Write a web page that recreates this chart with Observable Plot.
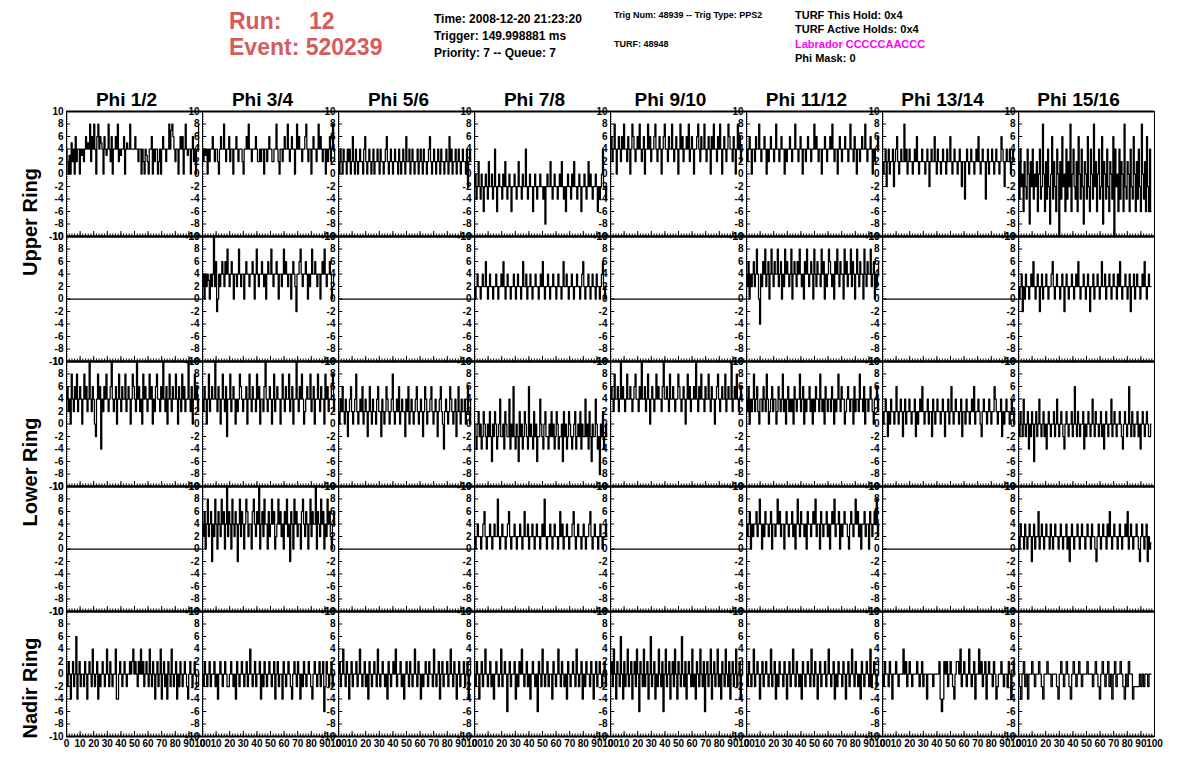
<!DOCTYPE html>
<html>
<head>
<meta charset="utf-8">
<title>ANITA event display</title>
<script src="https://cdn.jsdelivr.net/npm/d3@7"></script>
<script src="https://cdn.jsdelivr.net/npm/@observablehq/plot@0.6"></script>
<style>
  html, body { margin: 0; padding: 0; background: #fff; }
  body { width: 1196px; height: 772px; position: relative; overflow: hidden;
         font-family: "Liberation Sans", Arial, Helvetica, sans-serif; font-weight: bold; }
  #chart { position: absolute; left: 0; top: 0; }
  .hdr { position: absolute; white-space: pre; line-height: 1; }
  .run { color: #d65c5c; font-size: 23px; }
  .box { position: absolute; background: #efefef; }
  .t12 { font-size: 12px; color: #000; }
  .t9 { font-size: 9px; color: #000; }
  .t11 { font-size: 11px; color: #000; }
  .ring { position: absolute; font-size: 20px; color: #000; transform: translate(-50%, -50%) rotate(-90deg); white-space: nowrap; }
</style>
</head>
<body>
<div class="box" style="left:426px;top:11px;width:166px;height:57px"></div>
<div class="box" style="left:606px;top:11px;width:166px;height:57px"></div>
<div class="box" style="left:787px;top:11px;width:166px;height:57px"></div>
<div id="chart"></div>
<script>
// ---------- categories ----------
const columns = ["Phi 1/2", "Phi 3/4", "Phi 5/6", "Phi 7/8", "Phi 9/10", "Phi 11/12", "Phi 13/14", "Phi 15/16"];
const rowKeys = ["U1", "U2", "L1", "L2", "N"];
const ringLabels = ["Upper Ring", "Lower Ring", "Nadir Ring"];

// ---------- tick labels ----------
const yTickLabels = [-10, -8, -6, -4, -2, 0, 2, 4, 6, 8, 10];
const xTickLabels = [0, 10, 20, 30, 40, 50, 60, 70, 80, 90, 100];

// ---------- header texts ----------
const runNumber = "12";
const eventNumber = "520239";
const timeText = "Time: 2008-12-20 21:23:20";
const triggerText = "Trigger: 149.998881 ms";
const priorityText = "Priority: 7 -- Queue: 7";
const trigNumText = "Trig Num: 48939 -- Trig Type: PPS2";
const turfText = "TURF: 48948";
const holdText = "TURF This Hold: 0x4";
const activeHoldsText = "TURF Active Holds: 0x4";
const labradorText = "Labrador CCCCCAACCC";
const phiMaskText = "Phi Mask: 0";

// ---------- waveform values ----------
const sampleSpan = 97.5; // time of the last sample
const flatTimes = [0, 100];
const flatValues = [0, 0];

// Upper ring, first row
const u1Phi12 = [4,2,0,3,0,5,2,4,0,6,2,4,4,0,4,3,4,2,4,6,4,5,4,8,2,6,4,8,4,0,6,8,4,6,5,4,0,6,4,3,4,8,4,2,6,0,4,4,6,4,8,2,4,3,4,4,6,0,4,5,4,4,8,4,4,4,4,6,4,4,2,4,4,0,4,2,0,4,3,2,0,4,4,6,0,4,2,4,4,0,2,4,0,4,6,4,4,2,4,4,8,4,7,8,6,4,2,4,4,0,4,6,4,6,0,4,8,4,3,4,4,0,4,6,2,4,0,4,4,8];
const u1Phi34 = [4,2,4,3,4,0,4,2,4,4,6,4,2,4,4,2,0,4,6,4,4,8,4,2,4,4,6,2,4,4,0,4,4,6,4,2,4,4,4,2,0,4,4,6,4,8,4,4,2,4,4,4,6,4,2,2,4,2,4,4,0,4,4,2,4,6,4,4,2,2,4,4,8,4,2,0,4,4,2,4,6,4,4,8,4,2,4,6,4,4,0,4,8,4,6,4,4,2,4,4,6,8,4,2,4,4,0,4,6,4,4,2,4,8,4,6,4,2,4,4,0,4,2,4,6,2,4,8,4,2];
const u1Phi56 = [2,0,4,2,0,4,2,2,0,4,2,4,0,2,6,2,0,4,2,0,2,4,2,2,0,4,6,2,0,2,4,2,0,2,4,0,2,2,4,2,0,4,2,2,0,2,4,6,2,0,2,4,2,0,2,4,2,2,0,4,2,0,2,4,2,0,6,2,2,4,0,2,4,2,0,2,2,4,0,2,4,2,0,4,2,2,0,2,4,6,2,0,2,4,2,0,2,4,2,0,4,2,2,0,2,4,2,0,6,2,4,0,2,2,4,0,2,4,2,0,2,4,2,2,0,4,-2,2,4,2];
const u1Phi78 = [-2,0,-4,-2,2,-2,-4,0,-2,-6,-2,0,-2,-4,2,-2,-2,0,-4,-2,4,-2,-6,-2,0,-2,-2,-4,0,-2,2,-2,-4,-2,0,-2,-6,-2,-2,0,-2,-4,-2,2,-2,-2,-4,0,-2,-2,4,-2,-4,-2,0,-2,-2,-6,-2,0,-2,-4,-2,-2,0,-2,-2,-4,-2,-8,-2,0,-2,-2,2,-2,-4,-2,0,-2,-2,-4,-2,0,-2,2,-2,-4,-2,-6,-2,0,-2,-2,-4,0,-2,2,-2,-2,-4,-2,0,-2,-6,-2,-2,0,-2,-4,-2,2,-2,0,-2,-4,-2,-2,0,-2,-6,-2,-4,-2,0,4,-2,-2,-4,-2];
const u1Phi910 = [4,6,2,4,8,4,0,4,6,4,2,6,4,8,4,4,2,6,4,0,4,8,6,4,2,4,6,4,8,4,2,4,6,0,4,4,8,4,6,2,4,4,6,8,4,2,4,6,4,0,4,6,8,4,4,2,6,4,4,8,4,2,4,6,4,0,4,8,4,6,2,4,4,6,4,8,2,4,6,4,0,4,4,6,8,4,2,6,4,4,8,4,2,4,6,4,0,6,4,8,4,4,2,6,4,8,4,0,4,6,4,2,4,8,6,4,4,2,6,4,0,4,8,4,6,2,4,4];
const u1Phi1112 = [4,2,4,6,4,0,4,4,2,6,4,4,8,4,2,4,4,6,4,0,4,2,4,6,4,4,2,4,8,4,4,2,4,6,4,4,0,4,2,4,4,6,4,2,4,4,8,4,4,2,4,6,4,0,4,4,2,4,6,4,4,2,4,4,8,4,6,4,2,4,4,0,4,4,6,4,2,4,4,6,4,8,4,2,4,4,0,4,6,4,2,4,4,6,4,4,2,4,8,4,4,2,6,4,0,4,4,2,4,6,4,4,8,4,2,4,4,6,4,0,4,2,4,4,6,4];
const u1Phi1314 = [2,0,2,4,-2,2,4,0,2,2,4,-2,2,4,6,2,0,2,4,2,2,8,2,4,0,2,4,2,2,0,2,4,2,6,2,0,2,2,4,2,2,0,2,4,2,-2,2,4,2,2,6,2,0,4,2,2,0,2,4,2,2,0,4,2,2,6,2,0,2,4,2,2,0,2,4,2,-2,2,2,-4,2,4,2,0,2,4,2,2,0,2,4,2,6,2,0,2,4,2,2,-4,2,4,0,2,2,4,2,0,2,4,2,2,0,2,6,4,2,-2,2,4,2,2,4,0,2,4,2,2];
const u1Phi1516 = [2,-4,4,-2,0,-6,2,-2,-4,4,0,-8,2,-2,4,-4,0,-2,2,-6,0,4,-4,-2,8,0,-6,2,-4,4,-2,-8,0,6,-4,2,-2,-6,4,0,-10,2,-4,6,-2,0,-6,4,-4,2,-2,8,-6,0,4,-2,-4,2,-6,6,0,-4,4,-2,-8,2,0,-4,6,-2,-6,4,0,-4,8,-2,2,-6,0,4,-4,-2,6,-8,2,0,-4,4,-2,-6,2,0,-4,6,-10,4,-2,0,-6,4,-4,2,0,-6,8,-2,-4,2,0,-6,4,-2,-4,6,0,-6,2,-4,4,-2,-6,8,0,-4,2,-6,6,-2,-6,4,-6];

// Upper ring, second row
const u2Phi34 = [2,4,0,4,2,4,3,0,4,2,4,10,2,6,-2,0,4,2,4,6,4,2,6,4,8,4,2,4,6,4,0,4,4,2,4,8,4,2,4,4,0,4,6,4,4,2,4,4,6,4,0,4,8,4,2,4,4,6,4,2,4,0,4,6,4,4,8,4,2,4,4,6,4,0,4,4,2,4,8,4,6,4,2,4,4,0,4,6,4,2,-2,4,4,6,8,4,2,4,4,6,4,0,4,2,4,8,4,4,6,4,2,4,4,0,4,6,4,8,4,2,4,4,6,4,0,2,4,4];
const u2Phi78 = [2,0,2,4,2,2,0,2,4,2,2,6,2,0,2,4,2,2,0,2,2,4,2,0,2,2,4,2,6,2,0,2,4,2,2,0,2,2,4,2,0,2,4,2,2,0,2,6,2,2,4,0,2,2,4,2,0,2,2,4,2,2,0,2,4,2,6,2,0,2,2,4,2,0,2,2,4,2,2,0,2,4,2,2,0,2,6,2,2,4,2,0,2,2,4,2,0,2,2,4,2,2,0,2,4,6,2,0,2,2,4,2,0,2,4,2,2,0,4,2,2,0,2,4,6,2,0,2,2];
const u2Phi1112 = [4,2,6,0,4,2,4,6,2,4,8,4,0,-4,4,2,6,4,8,2,4,6,0,4,8,4,2,6,4,4,8,2,4,6,0,4,2,8,4,6,4,2,4,8,0,4,6,4,2,6,4,8,4,2,4,0,6,4,8,4,2,4,6,4,0,8,4,2,6,4,4,2,8,4,6,0,4,2,4,8,6,4,2,4,0,6,4,8,4,2,6,4,4,0,8,4,6,2,4,4,8,2,6,4,0,4,8,4,2,6,4,4,0,8,4,2,6,4,4,8,2,4,6,0,4,2,4,6];
const u2Phi1516 = [2,0,2,4,-2,2,0,4,2,2,0,2,4,2,6,2,0,2,4,2,-2,2,4,0,2,2,4,2,0,2,2,4,6,2,0,2,4,2,2,0,2,4,2,-2,2,4,2,0,2,2,4,2,0,2,4,2,6,2,0,2,2,4,2,0,2,4,2,-2,2,2,4,0,2,2,4,2,0,2,6,2,2,4,0,2,2,4,2,0,2,4,2,2,0,4,2,6,2,0,2,2,4,2,0,2,4,-2,2,2,4,0,2,4,2,2,0,2,4,2,6,2,0,2,4,2,2];

// Lower ring, first row
const l1Phi12 = [4,6,2,4,0,8,4,2,6,4,8,2,4,6,4,0,4,8,4,6,2,4,10,4,2,6,4,0,-2,4,8,4,6,-4,4,2,6,4,8,4,2,4,6,10,4,2,4,6,0,4,8,4,2,6,4,4,8,2,4,6,4,0,4,8,6,4,2,10,4,6,2,4,0,8,4,6,4,2,4,8,4,6,0,4,2,6,8,4,4,2,6,4,10,4,2,6,0,4,8,4,2,6,4,4,8,4,0,6,4,2,8,4,6,2,4,4,10,4,2,6,0,4,8,4,6,2,4];
const l1Phi34 = [4,2,6,4,0,4,8,2,4,6,4,4,10,4,2,6,4,0,4,8,4,2,6,-2,4,4,8,2,4,6,4,0,4,2,4,8,6,4,2,4,4,6,0,4,8,4,2,6,4,4,2,8,4,6,0,4,4,2,6,10,4,2,4,6,4,0,4,8,2,4,6,4,4,0,4,8,4,2,6,4,4,8,2,4,6,0,4,4,10,4,2,6,4,8,4,0,2,4,6,4,4,8,2,4,6,0,4,4,8,4,2,6,4,4,0,8,4,6,2,4,4,6,8,2,4];
const l1Phi56 = [2,0,4,2,6,2,0,4,2,-2,2,4,6,2,0,2,4,8,2,0,2,4,2,6,0,2,4,2,-2,2,6,2,0,4,2,2,0,4,6,2,2,-2,4,2,0,2,6,4,2,0,2,4,8,2,0,2,4,2,6,0,2,4,2,2,-2,4,2,6,0,2,4,2,0,2,4,6,2,0,2,4,2,-2,2,6,4,0,2,2,4,6,2,0,2,4,2,-2,2,4,6,2,0,-4,2,4,2,0,2,6,4,2,0,2,4,-2,2,6,2,0,4,2,2,4,0,2,6,2,0,4];
const l1Phi78 = [0,-2,-4,0,2,-2,0,-4,-2,2,0,-2,-4,0,-2,2,-2,-6,0,-2,2,0,-4,-2,0,4,-2,-2,0,-4,2,0,-2,-2,4,-4,0,-2,6,-2,-4,0,-2,-6,2,-2,0,-4,-2,2,0,-2,-4,6,-2,0,-2,-4,2,-2,0,-6,-2,-2,4,0,-2,-4,0,2,-2,-2,-4,0,-2,2,-2,0,-4,-2,2,0,-4,-2,-2,0,-6,2,-2,0,-4,-2,2,0,-2,-4,-2,0,2,-4,-2,0,-2,2,-4,0,-2,-2,4,-2,0,-4,2,-2,-6,0,-2,-2,4,0,-4,-2,-8,0,-2,2,-4,-2,0,-2];
const l1Phi910 = [4,6,4,2,8,4,4,6,2,4,10,4,6,4,2,4,8,4,4,6,4,2,4,6,8,4,4,2,6,4,10,4,4,6,2,4,8,4,0,4,6,4,2,4,8,4,6,4,4,2,6,10,4,4,6,4,2,8,4,4,6,4,2,4,4,8,6,4,2,4,6,4,0,4,8,4,6,2,4,4,6,4,10,4,2,6,4,8,4,4,2,6,4,4,8,4,2,6,4,4,0,4,6,8,4,2,4,6,4,4,8,2,4,6,4,4,10,2,4,6,4,8,4,2,4,6,4,4];
const l1Phi1112 = [4,2,6,0,4,2,4,8,2,4,6,2,0,4,4,2,6,4,2,8,4,0,2,4,6,2,4,4,0,2,6,4,2,4,8,2,4,0,4,6,2,4,2,4,0,6,4,2,4,4,8,2,4,6,0,4,2,4,4,6,2,4,0,4,2,6,4,4,2,8,4,2,4,0,6,4,2,4,4,2,6,4,0,4,2,4,8,4,2,6,4,4,0,2,4,6,4,2,4,4,0,6,2,4,4,2,8,4,4,2,6,0,4,4,2,4,6,4,2,0,4,4,6,2,4];
const l1Phi1314 = [2,0,2,4,2,-2,2,0,4,2,2,0,2,6,2,0,2,4,2,-2,2,4,0,2,2,4,2,0,2,2,4,-2,2,0,2,4,2,6,2,0,2,2,4,0,2,2,-2,4,2,0,2,4,2,2,0,2,4,2,-2,2,2,4,0,2,6,2,0,2,4,2,2,0,2,4,-2,2,2,0,4,2,2,0,2,4,2,6,0,2,2,4,2,0,-2,2,4,2,2,0,2,4,2,0,2,2,6,4,2,0,2,2,4,-2,2,0,2,4,2,2,0,2,4,2,0,2];
const l1Phi1516 = [0,-2,2,0,-2,4,0,-2,0,2,-4,0,-2,2,0,-6,0,2,-2,0,4,0,-2,0,2,-2,0,-4,0,2,0,-2,0,0,2,-2,0,4,0,-2,0,2,0,-2,-4,0,2,0,-2,0,0,2,-2,0,6,0,-2,2,0,-2,0,0,2,-4,0,-2,0,2,0,-2,0,4,0,-2,2,0,0,-2,0,2,-2,0,-4,0,2,0,-2,0,0,4,-2,0,2,0,-2,0,0,2,0,-2,-4,0,2,0,-2,0,6,0,-2,2,0,-2,0,0,2,-2,0,-4,0,2,0,-2,0,2,0,-2,-2,0];

// Lower ring, second row
const l2Phi34 = [4,2,6,0,4,8,2,4,6,-2,4,2,8,4,0,6,4,2,8,4,6,0,4,10,2,6,4,0,8,4,2,6,4,-2,4,8,2,6,4,0,4,8,6,2,4,4,0,6,8,4,2,6,4,10,0,4,6,2,8,4,4,0,6,2,4,8,4,6,0,2,4,8,4,6,2,4,0,6,4,8,2,4,-2,6,4,0,8,4,6,2,4,4,0,6,8,4,2,6,4,0,4,8,2,6,4,4,10,0,6,4,2,8,4,6,0,4,2,8,4,6,2,0,4,6,4];
const l2Phi78 = [2,0,2,4,2,2,0,2,4,6,2,0,2,2,4,2,0,2,4,2,2,8,2,0,2,4,2,2,0,2,4,6,2,0,2,2,4,2,0,2,2,4,2,0,2,6,2,2,4,0,2,2,4,2,0,2,4,2,2,0,2,4,2,8,2,0,2,2,4,2,0,2,4,2,2,0,2,6,2,4,0,2,2,4,2,0,2,2,4,6,2,0,2,4,2,2,0,2,4,2,0,2,2,4,6,2,0,2,4,2,2,0,2,4,2,0,2,2,4,2];
const l2Phi1112 = [4,2,4,6,0,4,2,4,4,6,2,4,8,4,0,4,2,6,4,4,2,4,6,0,4,4,2,4,8,4,6,2,4,4,0,4,6,4,2,4,4,6,2,4,0,4,8,4,2,6,4,4,2,4,0,6,4,4,2,4,6,4,8,2,4,4,0,6,4,2,4,4,6,2,4,0,4,6,4,8,2,4,4,6,0,4,2,4,6,4,4,2,0,4,6,4,2,4,8,4,6,2,4,0,4,4,6,2,4,4,0,6,4,2,4,6,4,8,2,4];
const l2Phi1516 = [2,0,4,2,2,0,4,2,0,2,4,2,-2,2,4,0,2,2,6,0,2,4,2,0,2,4,2,2,0,4,2,0,2,4,2,2,0,2,4,2,0,2,2,4,0,2,-2,2,4,2,0,2,2,4,2,0,2,4,2,2,0,2,4,2,2,0,4,2,2,0,-2,2,4,2,0,2,4,2,2,0,4,2,6,2,0,2,4,2,2,0,2,4,2,0,2,2,4,2,6,0,2,4,2,0,2,2,4,2,0,-2,2,4,2,0,2,4,-2,2,0,1];

// Nadir ring
const nPhi12 = [0,-2,2,0,-4,0,2,-2,0,6,-4,0,2,-2,0,0,-2,2,0,-4,0,2,0,-2,4,0,-2,0,2,-4,0,-2,0,2,0,-2,0,4,0,-2,2,0,-2,0,0,4,-4,-4,0,2,0,-2,0,2,0,-2,0,0,2,0,2,4,0,2,0,-2,2,0,4,0,2,-2,0,2,0,-2,4,0,-2,2,0,-4,0,2,-2,0,4,-4,0,2,-2,0,-4,2,0,-2,4,0,-2,0,2,-4,0,-2,2,0,-2,0,2,0,-2,-4,0,2,0,-2,0,2,0,-2,-2,0];
const nPhi34 = [0,-2,2,0,-2,0,2,-2,0,0,2,-2,0,-4,0,2,0,-2,0,2,0,-2,-2,0,2,0,-2,0,-4,2,0,-2,0,2,0,-2,0,2,-2,0,4,0,-2,0,2,-2,0,0,2,-4,0,-2,2,0,-2,0,2,0,-2,0,2,-4,0,2,-2,0,0,-4,2,0,-2,0,2,0,-2,-4,0,2,0,-2,2,0,-4,0,-2,2,0,-2,0,2,0,-2,-4,0,2,0,-2,0,2,-2,0,2,-6,-2,2,0,-2,0,2,-2,0,0];
const nPhi56 = [0,2,-2,0,4,0,-2,2,0,-4,0,2,-2,0,0,2,-2,0,4,0,-2,0,2,-2,0,-4,2,0,-2,0,2,0,-2,4,0,-2,0,2,0,-2,0,-4,2,0,-2,0,2,0,4,-2,0,0,2,-2,0,-4,0,2,0,-2,2,0,-2,0,4,0,-2,2,0,-4,0,-2,0,2,0,-2,2,0,0,-2,4,0,-2,0,2,-4,0,2,-2,0,0,2,-2,0,4,0,-2,2,0,-4,0,2,-2,0,0,2,-2,0,2,-4,0,2];
const nPhi78 = [0,-2,2,0,-4,0,2,-2,0,4,0,-2,0,2,-2,0,-4,0,2,0,-2,0,4,-2,0,2,0,-6,0,2,-2,0,0,2,-4,0,-2,2,0,4,0,-2,0,2,-2,0,-4,0,2,0,-2,0,-6,2,0,-2,4,0,-2,0,2,-2,0,0,-4,2,0,-2,0,4,0,-2,2,0,-2,0,-4,2,0,-2,0,2,0,-2,4,0,-2,0,2,-4,0,-2,2,0,0,-2,2,0,-4,0,2,-2,0,2,0,-2,0,2,-2,0];
const nPhi910 = [0,2,-2,4,0,-4,2,0,-2,6,0,-4,2,-2,0,4,-2,0,2,-4,0,2,-2,4,0,-6,2,0,-2,4,-2,0,2,-4,0,6,-2,0,2,-4,0,-2,4,0,-2,2,-6,0,4,-2,0,2,-4,0,2,-2,4,0,-4,2,0,-2,6,0,-2,2,-4,0,2,0,-2,4,-2,0,-4,2,0,-2,4,0,-2,2,-6,0,2,-2,0,4,-4,0,2,-2,0,4,-2,0,-4,2,0,-2,4,0,-2,2,-4,0,2,-2,0,4,-2,0,2,-4,0,2];
const nPhi1112 = [0,-2,2,0,-2,0,4,-2,0,2,0,-4,0,2,-2,0,2,0,-2,0,4,-2,0,2,-4,0,-2,2,0,0,-2,2,0,-4,0,2,-2,0,4,0,-2,2,0,-2,0,-4,2,0,-2,0,2,0,-2,4,0,-2,2,0,-4,0,2,-2,0,0,2,-2,0,4,0,-2,0,2,-4,0,-2,2,0,0,-2,2,0,-4,0,2,-2,0,4,0,-2,2,0,-2,0,-4,2,0,-2,0,2,0,-2,4,-2,0,2,0,-2,0,2];
const nPhi1314 = [0,-2,2,0,0,-2,2,0,-4,0,0,2,0,-2,0,0,0,4,0,2,-2,0,2,0,-2,0,0,0,2,0,-2,0,2,-2,0,0,-4,0,0,0,0,-2,0,0,0,0,2,-4,-6,-4,2,0,2,-2,0,2,0,-2,-4,0,2,2,0,4,-2,0,2,0,-2,0,4,0,-2,0,2,-4,0,0,4,0,2,-2,0,2,-4,0,2,0,0,-2,2,0,-4,-2,0,0,2,0,-2,0,0,-2,2,0,-4,0,2,0];
const nPhi1516 = [0,-2,-4,0,2,-2,0,-4,0,0,2,0,-2,0,0,2,0,-2,-4,0,0,2,0,0,-2,0,0,0,-2,-4,0,2,0,-2,0,2,0,-2,-4,0,2,0,-2,0,2,0,-2,0,0,0,2,0,0,0,-2,0,2,0,-2,-4,0,2,0,-2,0,2,-2,0,-4,0,2,-2,0,0,2,0,-2,-4,0,-2,2,0,0,-4,-2,-2,-2,-2,0,-2,0,-2,0,0,-2,0,0];

// ---------- build the table for the library ----------
const panels = [
  ["U1", columns[0], u1Phi12], ["U1", columns[1], u1Phi34], ["U1", columns[2], u1Phi56], ["U1", columns[3], u1Phi78],
  ["U1", columns[4], u1Phi910], ["U1", columns[5], u1Phi1112], ["U1", columns[6], u1Phi1314], ["U1", columns[7], u1Phi1516],
  ["U2", columns[0], flatValues, flatTimes], ["U2", columns[1], u2Phi34], ["U2", columns[2], flatValues, flatTimes], ["U2", columns[3], u2Phi78],
  ["U2", columns[4], flatValues, flatTimes], ["U2", columns[5], u2Phi1112], ["U2", columns[6], flatValues, flatTimes], ["U2", columns[7], u2Phi1516],
  ["L1", columns[0], l1Phi12], ["L1", columns[1], l1Phi34], ["L1", columns[2], l1Phi56], ["L1", columns[3], l1Phi78],
  ["L1", columns[4], l1Phi910], ["L1", columns[5], l1Phi1112], ["L1", columns[6], l1Phi1314], ["L1", columns[7], l1Phi1516],
  ["L2", columns[0], flatValues, flatTimes], ["L2", columns[1], l2Phi34], ["L2", columns[2], flatValues, flatTimes], ["L2", columns[3], l2Phi78],
  ["L2", columns[4], flatValues, flatTimes], ["L2", columns[5], l2Phi1112], ["L2", columns[6], flatValues, flatTimes], ["L2", columns[7], l2Phi1516],
  ["N", columns[0], nPhi12], ["N", columns[1], nPhi34], ["N", columns[2], nPhi56], ["N", columns[3], nPhi78],
  ["N", columns[4], nPhi910], ["N", columns[5], nPhi1112], ["N", columns[6], nPhi1314], ["N", columns[7], nPhi1516]
];
const table = [];
for (const [row, col, values, times] of panels) {
  values.forEach((v, i) => {
    const t = times ? times[i] : i * sampleSpan / (values.length - 1);
    table.push({row, col, t, v});
  });
}

const W = 1196, H = 772;
const mTop = 111, mLeft = 62, mRight = 39, mBottom = 36;
const panelW = (W - mLeft - mRight) / columns.length;
const panelH = (H - mTop - mBottom) / rowKeys.length;
const yMinor = d3.range(-10, 10.001, 0.4);
const xMinor = d3.range(0, 100.001, 2);

const chart = Plot.plot({
  width: W, height: H,
  marginTop: mTop, marginLeft: mLeft, marginRight: mRight, marginBottom: mBottom,
  style: {fontFamily: "'Liberation Sans', Arial, Helvetica, sans-serif", fontWeight: "bold", background: "white", color: "black", overflow: "visible"},
  x: {domain: [0, 100], axis: null},
  y: {domain: [-10, 10], axis: null},
  fx: {domain: columns, padding: 0, axis: null},
  fy: {domain: rowKeys, padding: 0, axis: null},
  marks: [
    Plot.line(table, {x: "t", y: "v", fx: "col", fy: "row", stroke: "black", strokeWidth: 1.25, curve: "step"}),
    Plot.frame({stroke: "black", strokeWidth: 1}),
    Plot.ruleY([-10, 10], {stroke: "black", strokeWidth: 2}),
    Plot.tickY(yMinor, {y: d => d, insetRight: panelW - 2.5, stroke: "black", strokeWidth: 1}),
    Plot.tickY(yTickLabels, {y: d => d, insetRight: panelW - 5, stroke: "black", strokeWidth: 1}),
    Plot.tickX(xMinor, {x: d => d, insetTop: panelH - 2.5, stroke: "black", strokeWidth: 1}),
    Plot.tickX(xTickLabels, {x: d => d, insetTop: panelH - 5, stroke: "black", strokeWidth: 1}),
    Plot.text(yTickLabels, {y: d => d, frameAnchor: "left", textAnchor: "end", dx: -3, fontSize: 10, fontWeight: "bold", fill: "black"}),
    Plot.axisX({ticks: xTickLabels, tickSize: 0, tickPadding: 3, fontSize: 10, fontWeight: "bold", label: null}),
    Plot.axisFx({anchor: "top", tickSize: 0, tickPadding: 6, fontSize: 19, fontWeight: "bold", dx: -8, label: null})
  ]
});
document.getElementById("chart").appendChild(chart);

// ---------- header & ring labels ----------
function addText(text, cls, left, baseline, size, color) {
  const el = document.createElement("div");
  el.className = "hdr " + cls;
  el.textContent = text;
  el.style.left = left + "px";
  el.style.top = (baseline - size * 0.9) + "px";
  if (color) el.style.color = color;
  document.body.appendChild(el);
}
addText("Run:", "run", 229, 31, 23);
addText(runNumber, "run", 309, 31, 23);
addText("Event: " + eventNumber, "run", 229, 57, 23);
addText(timeText, "t12", 434, 24, 12);
addText(triggerText, "t12", 434, 41, 12);
addText(priorityText, "t12", 434, 58, 12);
addText(trigNumText, "t9", 614, 19, 9);
addText(turfText, "t9", 614, 48, 9);
addText(holdText, "t11", 795, 20, 11);
addText(activeHoldsText, "t11", 795, 34, 11);
addText(labradorText, "t11", 795, 49, 11, "#ff00ff");
addText(phiMaskText, "t11", 795, 63, 11);

const ringCenters = [[ringLabels[0], 222], [ringLabels[1], 472], [ringLabels[2], 688]];
for (const [label, cy] of ringCenters) {
  const el = document.createElement("div");
  el.className = "ring";
  el.textContent = label;
  el.style.left = "30px";
  el.style.top = cy + "px";
  document.body.appendChild(el);
}
</script>
</body>
</html>
